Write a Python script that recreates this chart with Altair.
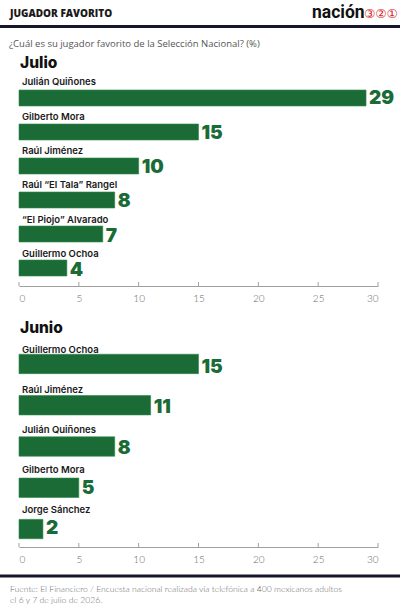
import altair as alt
import pandas as pd

# Survey results (%)
julio_jugadores = ["Julián Quiñones", "Gilberto Mora", "Raúl Jiménez",
                   "Raúl “El Tala” Rangel", "“El Piojo” Alvarado", "Guillermo Ochoa"]
julio_valores = [29, 15, 10, 8, 7, 4]

junio_jugadores = ["Guillermo Ochoa", "Raúl Jiménez", "Julián Quiñones",
                   "Gilberto Mora", "Jorge Sánchez"]
junio_valores = [15, 11, 8, 5, 2]

ticks = [0, 5, 10, 15, 20, 25, 30]

encabezado = ["JUGADOR FAVORITO"]
logo_texto = ["nación"]
logo_numeros = ["③②①"]
pregunta = ["¿Cuál es su jugador favorito de la Selección Nacional? (%)"]
titulo_julio = ["Julio"]
titulo_junio = ["Junio"]
fuente = ["Fuente: El Financiero / Encuesta nacional realizada vía telefónica a 400 mexicanos adultos",
          "el 6 y 7 de julio de 2026."]

VERDE = "#1b6b37"
TEXTO = "#1a1a1a"
W = 400

x_scale = alt.Scale(domain=[0, 30], range=[19, 378], nice=False)
x_axis = alt.Axis(values=ticks, format="d", title=None, grid=False, ticks=False,
                  domainColor="#a0a0a0", domainWidth=1, labelFontSize=10,
                  labelColor="#6a6a6a", labelFont="Lato", labelFontWeight=300,
                  labelPadding=7)


def texto(lista, x, y, size, color, weight="normal", font="Open Sans"):
    df = pd.DataFrame({"t": lista, "i": list(range(len(lista)))})
    return alt.Chart(df).mark_text(
        align="left", baseline="middle", fontSize=size, color=color,
        fontWeight=weight, font=font
    ).encode(text="t:N", x=alt.value(x),
             y=alt.Y("i:Q", scale=alt.Scale(domain=[0, 1], range=[y, y + 11]), axis=None))


def panel(jugadores, valores, height, rango_y, pad_outer, dy_nombre, extra):
    df = pd.DataFrame({"jugador": jugadores, "valor": valores})
    y = alt.Y("jugador:N", sort=None, axis=None,
              scale=alt.Scale(range=rango_y, paddingInner=0.53, paddingOuter=pad_outer))
    base = alt.Chart(df)
    barras = base.mark_bar(color=VERDE, stroke="#2e8a4c", strokeWidth=0.6).encode(
        x=alt.X("valor:Q", scale=x_scale, axis=x_axis), y=y)
    numeros = base.mark_text(align="left", baseline="middle", dx=3, dy=1,
                             fontSize=19, font="Inter", fontWeight=900,
                             color=VERDE).encode(
        x=alt.X("valor:Q", scale=x_scale), y=y, text="valor:Q")
    nombres = base.mark_text(align="left", baseline="middle", dy=dy_nombre,
                             fontSize=9.5, font="Inter", fontWeight=600,
                             color=TEXTO).encode(
        x=alt.value(22), y=y, text="jugador:N")
    marcas = alt.Chart(pd.DataFrame({"t": ticks})).mark_rule(
        color="#a0a0a0", strokeWidth=1).encode(
        x=alt.X("t:Q", scale=x_scale), y=alt.value(height - 4), y2=alt.value(height))
    return alt.layer(barras, marcas, numeros, nombres, *extra).resolve_scale(
        y="independent").properties(width=W, height=height)


def linea(y):
    # thick separator drawn as a rect so its bounds stay inside the page
    return alt.Chart(pd.DataFrame({"a": [0]})).mark_rect(color="#15162b").encode(
        x=alt.value(0), x2=alt.value(W), y=alt.value(y - 1.5), y2=alt.value(y + 1.5))


cabecera = [
    texto(encabezado, 10, 14, 10, TEXTO, 800, "Open Sans"),
    texto(logo_texto, 312, 12.5, 17.5, "#111111", "bold", "Roboto"),
    texto(logo_numeros, 364, 13.5, 12.5, "#d8262c", "normal", "DejaVu Sans"),
    linea(26.5),
    texto(pregunta, 9, 44, 9.5, "#555555", "normal", "Open Sans"),
    texto(titulo_julio, 20, 63, 15.5, "#111111", 800, "Inter"),
]

julio = panel(julio_jugadores, julio_valores, 286, [80, 286], 0.294, -15, cabecera)

pie = [
    texto(titulo_junio, 20, 20, 15.5, "#111111", 800, "Inter"),
    linea(268),
    alt.Chart(pd.DataFrame({"t": fuente, "i": [0, 1]})).mark_text(
        align="left", baseline="middle", fontSize=8.6, color="#6a6a6a",
        font="Lato", fontWeight=300).encode(
        text="t:N", x=alt.value(10),
        y=alt.Y("i:Q", scale=alt.Scale(domain=[0, 1], range=[281, 292]), axis=None)),
]

junio = panel(junio_jugadores, junio_valores, 239, [38, 239], 0.2, -16.5, pie)

chart = alt.vconcat(julio, junio, spacing=5).properties(
    padding={"left": 0, "top": 0, "right": 0, "bottom": 0},
    background="white",
).configure_view(stroke=None)

chart.save("out.html", embed_options={"renderer": "svg", "actions": False})
